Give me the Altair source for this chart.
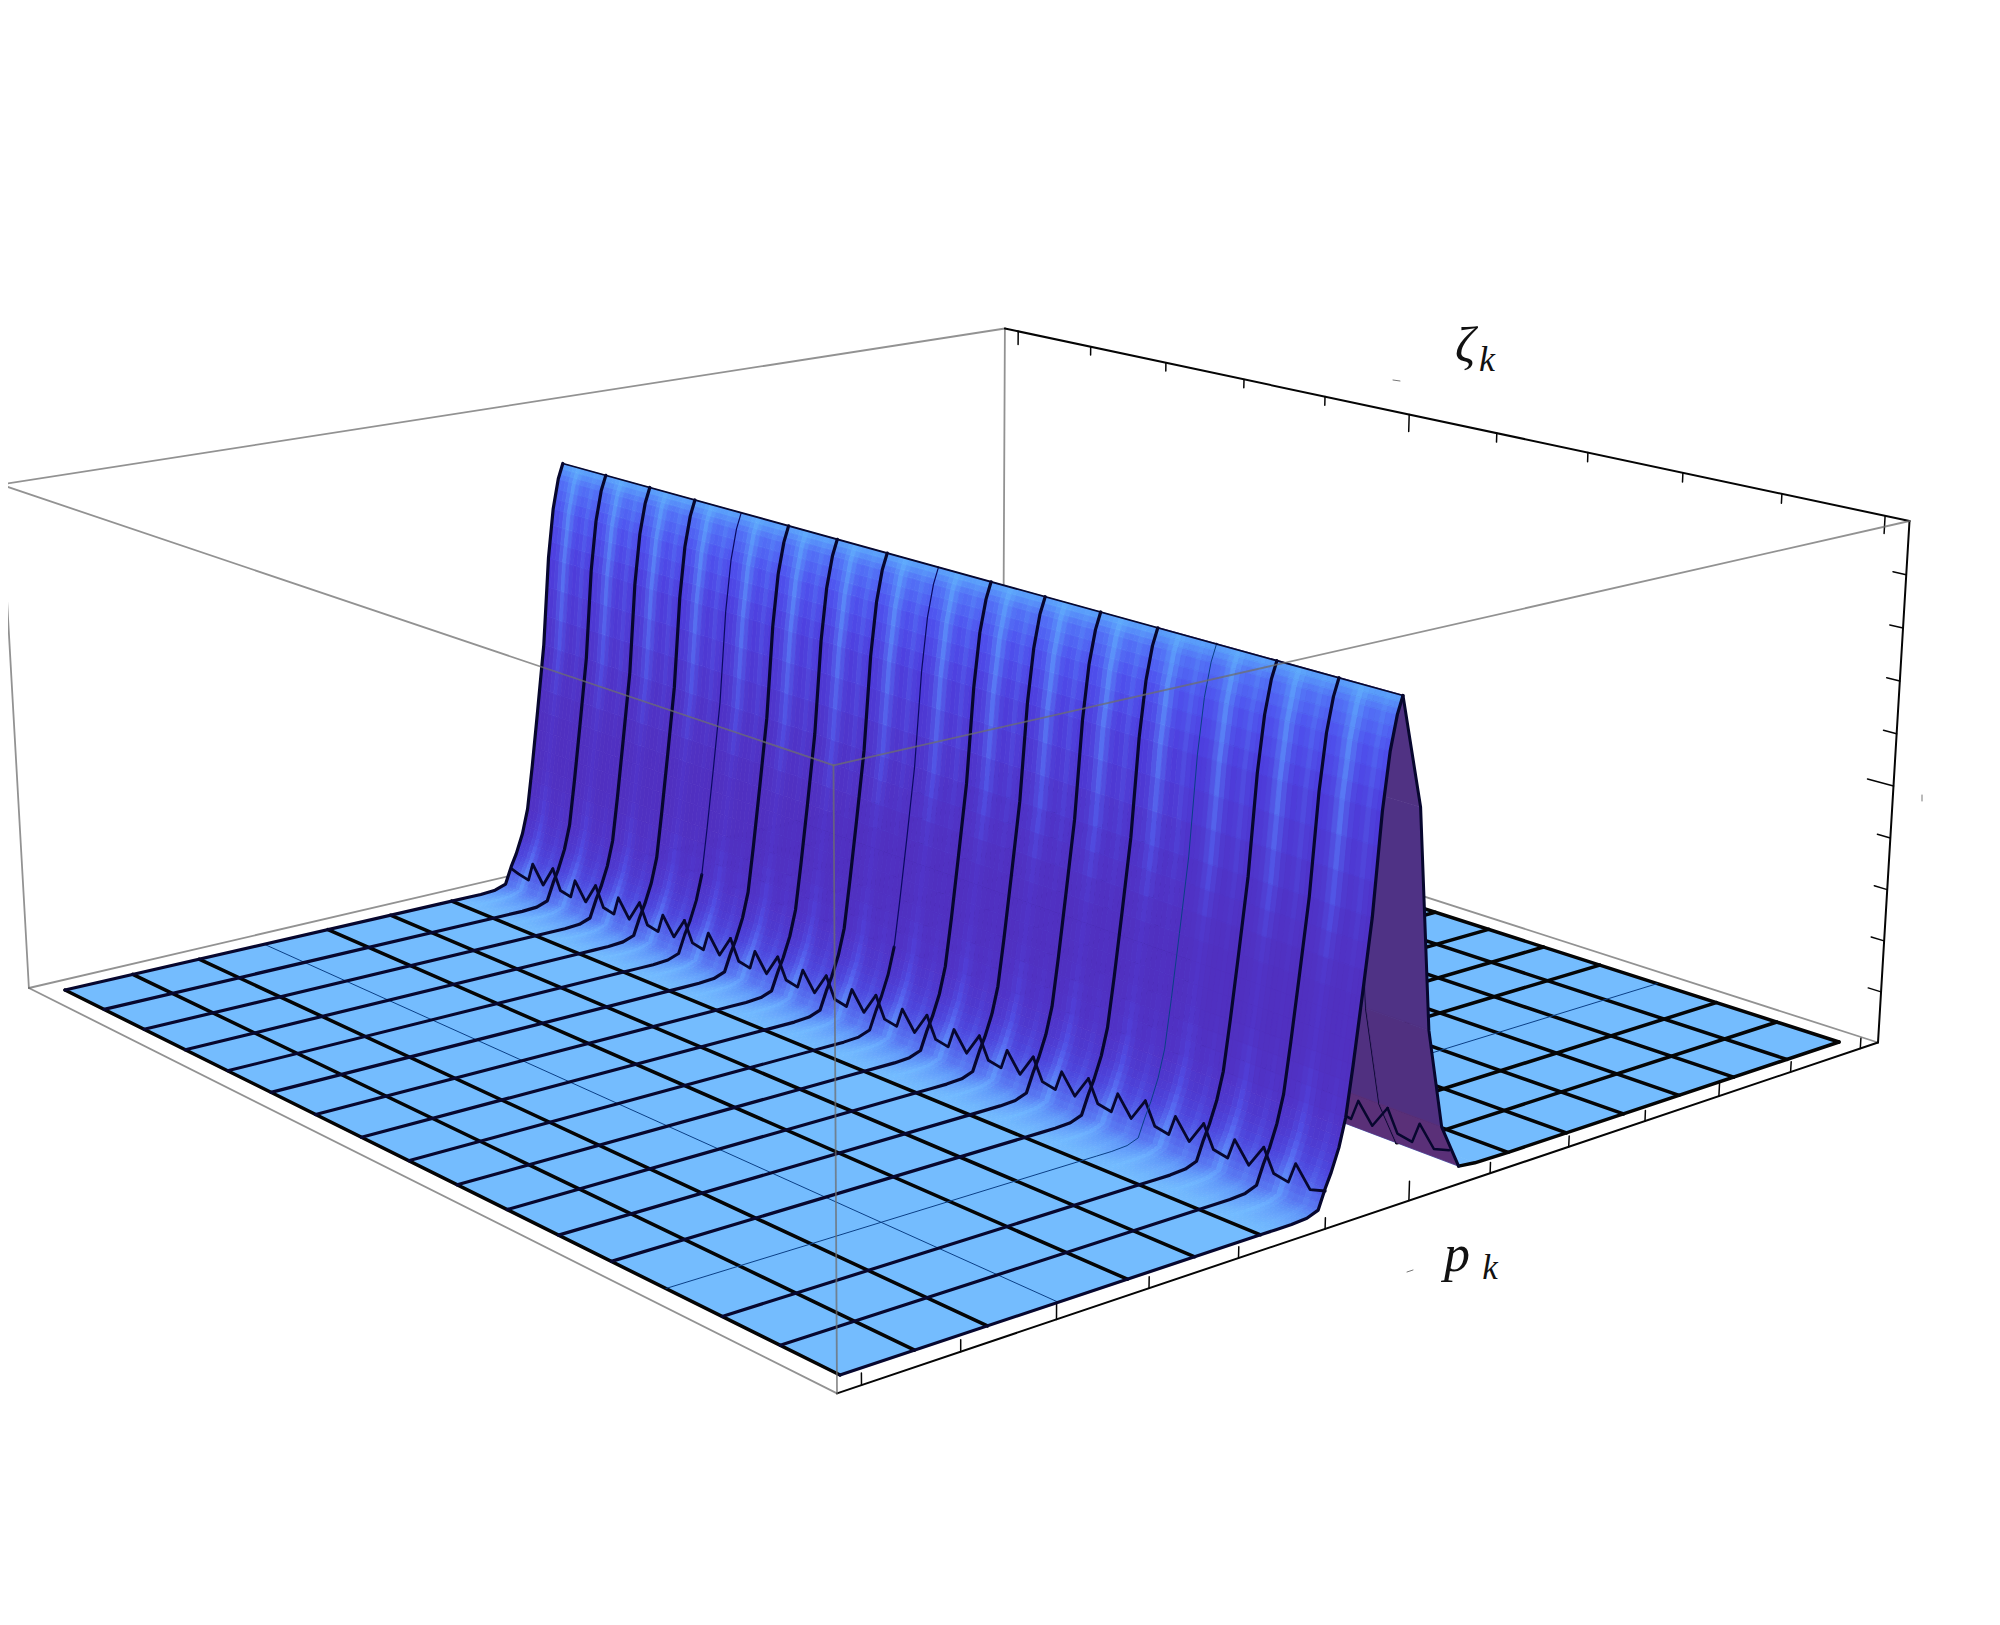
import numpy as np
import altair as alt

# ---- box calibration: cube corner (u, v, z) and where it appears
cube_pts = [(0,0,0),(1,0,0),(0,1,0),(1,1,0),(0,0,1),(1,0,1),(0,1,1),(1,1,1)]
cube_px = [(838,1393),(1878,1044),(29,988),(1002,760),(833,765),(1909,520),(0,485),(1006,329)]
# ---- surface floor corners as seen in the picture
floor_px = {"F":(840,1375),"R":(1839,1042),"L":(65,990),"B":(1005,774)}
floor_z = 0.03

# ---- ridge profile across p_k (s = fraction of the mesh, z = height)
front_s = [.375,.39,.405,.42,.431,.4375,.443,.45,.456,.462,.469,.477,.484,.49,.496,.501]
front_z = [0,0,0,.002,.01,.045,.07,.11,.16,.25,.365,.5,.68,.78,.84,.87]
front_base = ["#74BCFE","#70B6FD","#6AA8FC","#6098F9","#5878F2","#5058E6","#4C44DC","#4E38CE","#5032C6",
              "#5030C0","#5030C0","#4F33C8","#4D3CDC","#4E50EE","#5270F6","#5AA4FB"]
front_light = ["#74BCFE","#72BBFF","#70B8FF","#6AACFF","#629AFC","#5C86F8","#5870F4","#5050E6","#5040D8",
               "#5034C8","#5034C8","#5050E4","#5878F4","#5A8CF8","#5C9CFB","#60AEFC"]
back_s = [.501,.522,.5375,.554,.573,.59,.625]
back_z = [.87,.67,.27,.087,.005,.001,0]
back_col = ["#503283","#4F3285","#503080","#5A3078"]
streak = [0,.03,.15,.5,.95,.5,.15,.03,.1,.3,.1,0]
zig_pos = [0,.17,.41,.52,.76]
zig_z = [.075,.035,.03,.068,.032]
zig_end = .04
thin_s = [3]
thin_t = [3]
thin_upper_t = [8,12]
bottom_ticks_u = [.0193,.0993,.1793,.2593,.3393,.4193,.4993,.5793,.6593,.7393,.8193,.8993,.9793]
bottom_ticks_len = [.02,.02,.035,.02,.02,.02,.035,.02,.02,.02,.035,.02,.02]
top_ticks_w = [.018,.114,.21,.306,.402,.498,.594,.69,.786,.882,.978]
top_ticks_len = [.03,.018,.018,.018,.018,.035,.018,.018,.018,.018,.033]
side_ticks_z = [.1,.2,.3,.4,.5,.6,.7,.8,.9]
side_ticks_len = [.012,.012,.012,.012,.024,.012,.012,.012,.012]

FLOOR = "#74BCFE"
NAVY = "#07072e"
BLACK = "#050505"
THIN = "#0a3f86"
GRAY = "rgba(110,110,110,0.75)"
N = 16
SUB = 3
THICK = 3.5

# ---- projection, from the calibration table
A, b = [], []
for (u, v, z), (x, y) in zip(cube_pts, cube_px):
    A.append([u, v, z, 1, 0, 0, 0, 0, -x*u, -x*v, -x*z]); b.append(x)
    A.append([0, 0, 0, 0, u, v, z, 1, -y*u, -y*v, -y*z]); b.append(y)
p = np.linalg.lstsq(np.array(A, float), np.array(b, float), rcond=None)[0]
P = np.array([[p[0],p[1],p[2],p[3]],[p[4],p[5],p[6],p[7]],[p[8],p[9],p[10],1.0]])

def proj(u, v, z):
    q = P @ np.array([u, v, z, 1.0])
    return [round(float(q[0]/q[2]), 1), round(float(q[1]/q[2]), 1)]

Hz = np.column_stack([P[:,0], P[:,1], P[:,2]*floor_z + P[:,3]])
Hi = np.linalg.inv(Hz)
def to_cube(pt):
    q = Hi @ np.array([pt[0], pt[1], 1.0])
    return q[:2]/q[2]
cF, cR, cL, cB = (to_cube(floor_px[k]) for k in "FRLB")

def W(s, t, z=0.0):
    # s: 0 at F-L edge, 1 at R-B edge; t: 0 at F-R edge, 1 at L-B edge
    c = (1-s)*(1-t)*cF + s*(1-t)*cR + (1-s)*t*cL + s*t*cB
    return proj(c[0], c[1], floor_z + z)

def hexrgb(h):
    return np.array([int(h[i:i+2], 16) for i in (1,3,5)], float)
def mix(a, b, f):
    c = a*(1-f) + b*f
    return "#%02x%02x%02x" % tuple(int(round(x)) for x in c)

features = []
def poly(pts, col):
    features.append({"type":"Feature","geometry":{"type":"Polygon","coordinates":[pts+[pts[0]]]},
                     "properties":{"f":col,"c":col,"w":0.8}})
def line(pts, col, w):
    features.append({"type":"Feature","geometry":{"type":"LineString","coordinates":pts},
                     "properties":{"f":"transparent","c":col,"w":w}})

def U(i): return i/N
# --- box, back
def cp(u,v,z): return proj(u,v,z)
for a, b_ in [((0,1,1),(1,1,1)),((0,1,1),(0,1,0)),((0,0,0),(0,1,0)),((0,1,0),(1,1,0)),((1,1,0),(1,0,0)),((1,1,1),(1,1,0))]:
    line([cp(*a), cp(*b_)], GRAY, 1.8)
line([cp(1,1,1), cp(1,0,1)], BLACK, 2)
line([cp(1,0,1), cp(1,0,0)], BLACK, 2)
line([cp(0,0,0), cp(1,0,0)], BLACK, 2)
for u, l in zip(bottom_ticks_u, bottom_ticks_len):
    line([cp(u,0,0), cp(u,0,l)], BLACK, 1.5)
for w_, l in zip(top_ticks_w, top_ticks_len):
    line([cp(1,1-w_,1), cp(1,1-w_,1-l)], BLACK, 1.5)
for z, l in zip(side_ticks_z, side_ticks_len):
    line([cp(1,0,z), cp(1,l,z)], BLACK, 1.5)

# --- far floor
for j in range(N-1, -1, -1):
    for i in range(10, N):
        poly([W(U(i),U(j)),W(U(i+1),U(j)),W(U(i+1),U(j+1)),W(U(i),U(j+1))], FLOOR)
    poly([W(back_s[4],U(j),back_z[4]),W(back_s[5],U(j),back_z[5]),W(back_s[5],U(j+1),back_z[5]),W(back_s[4],U(j+1),back_z[4])], FLOOR)
    poly([W(back_s[5],U(j),back_z[5]),W(U(10),U(j)),W(U(10),U(j+1)),W(back_s[5],U(j+1),back_z[5])], FLOOR)
for i in range(10, N+1):
    line([W(U(i),0), W(U(i),1)], BLACK, THICK)
for j in range(0, N+1):
    pts = [W(s,U(j),z) for s,z in zip(back_s[4:],back_z[4:])] + [W(1,U(j))]
    th = j in thin_t
    line(pts, THIN if th else BLACK, 1 if th else THICK)

# --- inside of the ridge seen through its open end
for j in range(3, -1, -1):
    for r in range(4):
        poly([W(back_s[r],U(j),back_z[r]),W(back_s[r+1],U(j),back_z[r+1]),
              W(back_s[r+1],U(j+1),back_z[r+1]),W(back_s[r],U(j+1),back_z[r])], back_col[r])
    if j > 0:
        line([W(s,U(j),z) for s,z in zip(back_s[:5],back_z[:5])], NAVY, 2.5)
for j in range(3, -1, -1):
    pts = [W(.5625, U(j+1) - a/N, zz) for a, zz in zip(zig_pos, zig_z)]
    pts.append(W(.5625, U(j), zig_end if j == 0 else zig_z[0]))
    line(pts, NAVY, 2.5)

# --- near floor
for j in range(N-1, -1, -1):
    for i in range(0, 6):
        poly([W(U(i),U(j)),W(U(i+1),U(j)),W(U(i+1),U(j+1)),W(U(i),U(j+1))], FLOOR)

# --- ridge, near face, strip by strip
rb = [hexrgb(c) for c in front_base]
rl = [hexrgb(c) for c in front_light]
ns = len(streak)
for j in range(N-1, -1, -1):
    for r in range(len(front_s)-1):
        for q in range(SUB):
            f0, f1 = q/SUB, (q+1)/SUB
            fm = (f0+f1)/2
            s0 = front_s[r] + (front_s[r+1]-front_s[r])*f0
            s1 = front_s[r] + (front_s[r+1]-front_s[r])*f1
            z0 = front_z[r] + (front_z[r+1]-front_z[r])*f0
            z1 = front_z[r] + (front_z[r+1]-front_z[r])*f1
            cb = rb[r]*(1-fm) + rb[r+1]*fm
            cl = rl[r]*(1-fm) + rl[r+1]*fm
            for k, f in enumerate(streak):
                a0 = (j+1 - k/ns)/N
                a1 = (j+1 - (k+1)/ns)/N
                poly([W(s0,a0,z0),W(s1,a0,z1),W(s1,a1,z1),W(s0,a1,z0)], mix(cb, cl, f))

# --- near-face mesh lines
for i in range(0, 7):
    th = i in thin_s
    line([W(U(i),0), W(U(i),1)], THIN if th else BLACK, 1 if th else THICK)
for j in range(N-1, -1, -1):
    z_start = zig_end if j == N-1 else zig_z[0]
    zs = [z_start] + zig_z[1:]
    pts = [W(.4375, U(j+1) - a/N, zz) for a, zz in zip(zig_pos, zs)]
    pts.append(W(.4375, U(j), zig_end if j == 0 else zig_z[0]))
    line(pts, NAVY, 2.8)
prof_pts = list(zip(front_s, front_z))
for j in range(0, N+1):
    t = U(j)
    base = [W(0,t)] + [W(s,t,z) for s,z in prof_pts]
    if j in thin_t:
        line(base, THIN, 1)
    elif j in thin_upper_t:
        line(base[:10], NAVY, 3)
        line(base[9:], "#0a0a60", 1.2)
    else:
        line(base, NAVY, 3.2)
line([W(front_s[-1],0,front_z[-1]), W(front_s[-1],1,front_z[-1])], NAVY, 1.8)
line([W(s,0,z) for s,z in zip(back_s[:5],back_z[:5])], NAVY, 3)

# --- box, front edges over everything
for a, b_ in [((0,0,1),(0,1,1)),((0,0,1),(1,0,1)),((0,0,1),(0,0,0))]:
    line([cp(*a), cp(*b_)], GRAY, 1.8)

# --- small specks
for pts in [[[1393,380],[1400,381]],[[1407,1272],[1413,1270]],[[1922,795],[1922,801]]]:
    line(pts, "#777777", 1)

labels = [
    {"text":"ζ","lon":1465,"lat":362,"size":50},
    {"text":"k","lon":1487,"lat":371,"size":36},
    {"text":"p","lon":1457,"lat":1271,"size":52},
    {"text":"k","lon":1490,"lat":1279,"size":35},
]

proj_args = dict(type="identity", scale=1, translate=[-8,-8])
surface = alt.Chart(alt.Data(values=features)).mark_geoshape(strokeCap="round", strokeJoin="round").encode(
    fill=alt.Fill("properties.f:N", scale=None),
    stroke=alt.Stroke("properties.c:N", scale=None),
    strokeWidth=alt.StrokeWidth("properties.w:Q", scale=None),
).project(**proj_args)
text = alt.Chart(alt.Data(values=labels)).mark_text(font="Liberation Serif", fontStyle="italic", align="center",
                                                   baseline="alphabetic", color="#111111").encode(
    longitude="lon:Q", latitude="lat:Q", text="text:N", size=alt.Size("size:Q", scale=None),
).project(**proj_args)
chart = alt.layer(surface, text).properties(width=1984, height=1609, padding=0, background="white").configure_view(strokeWidth=0)
chart.save("out.html", embed_options={"renderer": "svg", "actions": False})
